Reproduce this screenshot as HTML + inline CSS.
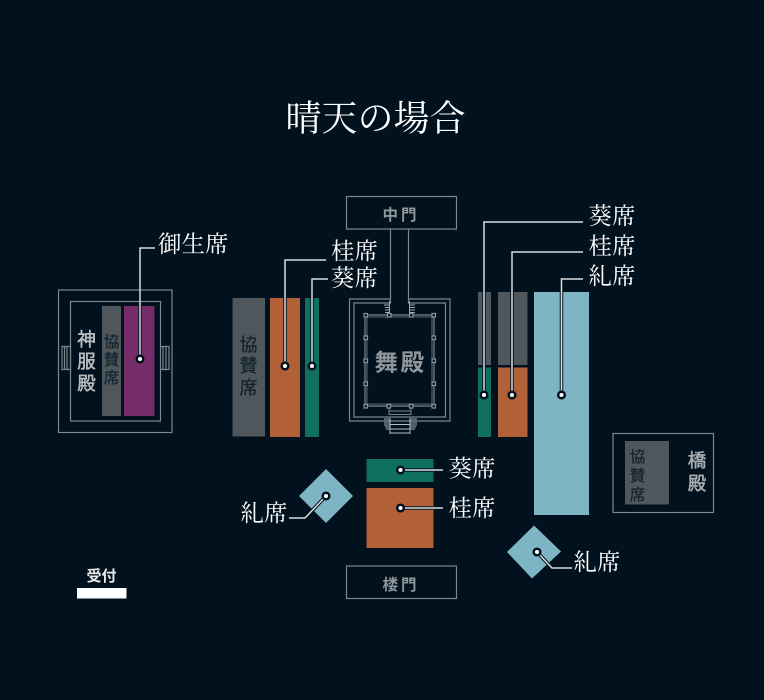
<!DOCTYPE html>
<html lang="ja"><head><meta charset="utf-8"><style>
html,body{margin:0;padding:0;background:#02111e}
svg{display:block}
.s{font-family:"Liberation Sans","Noto Sans CJK JP",sans-serif;font-weight:700;text-anchor:middle}
.l{font-family:"Liberation Serif","Noto Serif CJK SC",serif;fill:#fff;font-size:23.5px}
.d{font-family:"Liberation Sans","Noto Sans CJK JP",sans-serif;fill:#14232e;stroke:#14232e;stroke-width:.3;text-anchor:middle}
.m{font-family:"Liberation Sans","Noto Sans CJK JP",sans-serif;text-anchor:middle;stroke-width:.5}
</style></head><body>
<svg width="764" height="700" viewBox="0 0 764 700" xmlns="http://www.w3.org/2000/svg">
<rect width="764" height="700" fill="#02111e"/>
<text x="375.5" y="130.5" text-anchor="middle" font-size="36" fill="#fff" font-family="'Liberation Serif','Noto Serif CJK SC',serif">晴天の場合</text>

<!-- left building -->
<g fill="none" stroke="#7d868b" stroke-width="1.2">
<rect x="58.5" y="290" width="113.5" height="142.5"/>
<rect x="70.5" y="301.5" width="90" height="119.5"/>
<path d="M62 346.5h8.5v23H62zM64.5 346.5v23M67 346.5v23M160.5 346.5h8.5v23h-8.5M163 346.5v23M166 346.5v23"/>
</g>
<rect x="102" y="306" width="19" height="110" fill="#4f575c"/>
<rect x="124" y="306" width="30.5" height="110" fill="#742d68"/>
<g font-size="18.5" fill="#b7bcbf" stroke="#b7bcbf"><text class="m" x="86.5" y="346">神</text><text class="m" x="86.5" y="368">服</text><text class="m" x="86.5" y="390">殿</text></g>
<g font-size="15.5"><text class="d" x="111.5" y="347">協</text><text class="d" x="111.5" y="365">賛</text><text class="d" x="111.5" y="383">席</text></g>

<!-- seats left of stage -->
<rect x="232.5" y="298" width="32.5" height="138.5" fill="#4f575c"/>
<rect x="270" y="298" width="30" height="139" fill="#b26038"/>
<rect x="305" y="298" width="14" height="139" fill="#0f705e"/>
<g font-size="18"><text class="d" x="248.5" y="351">協</text><text class="d" x="248.5" y="372">賛</text><text class="d" x="248.5" y="394">席</text></g>

<!-- gates and stage -->
<g fill="none" stroke="#7d868b" stroke-width="1.2">
<rect x="346.5" y="196.5" width="110" height="32.5"/>
<rect x="346.5" y="566" width="110" height="32.5"/>
<path d="M390.5 229V303H354V417H445.5V303H408.5V229"/>
<path d="M390.5 299H349.5V421H450V299H408.5"/>
<path d="M365 315H434V406H365Z"/>
<path d="M367 317H432V404H367Z" stroke-width=".8"/>
<path d="M389 407V414.5H411V407M389 411H411" stroke-width="1"/>
</g>
<g fill="none" stroke="#a2a9ad" stroke-width="1">
<path d="M384 305h6M385 307.5h5M385 310h5M385 312.5h5M409 305h6M409 307.5h6M409 310h6M409 312.5h6M389.500 301V316M409.500 301V316"/>
<path d="M384 419h6M384 421h6M384 423h6M384 425h6M385 427h5M386 429h4M410 419h7M410 421h7M410 423h7M410 425h7M410 427h6M410 429h5"/>
<path d="M390 418V434M410 418V434M390 424.500h20M390 429h20M390 433h20" stroke="#b5babd"/>
</g>
<g fill="#02111e" stroke="#8b949a" stroke-width="1.2">
<rect x="364" y="313.500" width="3.500" height="3.500"/><rect x="432" y="313.500" width="3.500" height="3.500"/><rect x="364" y="404.500" width="3.500" height="3.500"/><rect x="432" y="404.500" width="3.500" height="3.500"/>
<rect x="364" y="336" width="3.500" height="3.500"/><rect x="432" y="336" width="3.500" height="3.500"/><rect x="364" y="359" width="3.500" height="3.500"/><rect x="432" y="359" width="3.500" height="3.500"/><rect x="364" y="382" width="3.500" height="3.500"/><rect x="432" y="382" width="3.500" height="3.500"/>
<rect x="387.500" y="313.500" width="3.500" height="3.500"/><rect x="409.500" y="313.500" width="3.500" height="3.500"/><rect x="387" y="404.500" width="3.500" height="3.500"/><rect x="409.500" y="404.500" width="3.500" height="3.500"/>
</g>
<g fill="#8f979c"><text class="s" x="401" y="220" font-size="15.500" letter-spacing="3">中門</text><text class="s" x="401" y="590" font-size="15.500" letter-spacing="3">楼門</text><text class="s" x="400.500" y="370.500" font-size="23.500" letter-spacing="2.500">舞殿</text></g>

<!-- seats right of stage -->
<rect x="478" y="292" width="13" height="73" fill="#4f575c"/>
<rect x="478" y="367.500" width="13" height="69.500" fill="#0f705e"/>
<rect x="498" y="292" width="29.500" height="73" fill="#4f575c"/>
<rect x="498" y="367.500" width="29.500" height="69.500" fill="#b26038"/>
<rect x="534" y="292" width="55" height="223" fill="#7eb5c4"/>

<!-- right building -->
<rect x="613" y="433.500" width="100.500" height="79" fill="none" stroke="#7d868b" stroke-width="1.2"/>
<rect x="625" y="441" width="44" height="63.500" fill="#4f575c"/>
<g font-size="15.500"><text class="d" x="637.500" y="462">協</text><text class="d" x="637.500" y="481">賛</text><text class="d" x="637.500" y="500">席</text></g>
<g font-size="18.500" fill="#a9afb3" stroke="#a9afb3"><text class="m" x="697" y="467">橋</text><text class="m" x="697" y="490">殿</text></g>

<!-- lower seats -->
<rect x="366.500" y="459" width="67" height="23" fill="#0f705e"/>
<rect x="366.500" y="488" width="67" height="60" fill="#b26038"/>
<polygon points="326,469 353,496 326,523 299,496" fill="#7eb5c4"/>
<polygon points="534,525.500 561,551.500 532,578.500 507,552" fill="#7eb5c4"/>

<!-- leader lines -->
<g fill="none" stroke="#02111e" stroke-width="3.500">
<path d="M140 359V306M285 366V298M312 366V298M484 395V292M512 395V292M561.500 395V292"/>
<path d="M326 496L305 518M537 552L552 568M400.500 470H433M400.500 508H433"/>
</g>
<g fill="none" stroke="#d8dcde" stroke-width="1.500">
<path d="M140 359V248H155"/>
<path d="M285 366V260H326"/>
<path d="M312 366V279H328"/>
<path d="M484 395V222H583"/>
<path d="M512 395V252H583"/>
<path d="M561.500 395V279H583"/>
<path d="M400.500 470H443M400.500 508H443"/>
<path d="M326 496L305 518H289M537 552L552 568H572"/>
</g>
<g fill="#fff" stroke="#02111e" stroke-width="2.500">
<circle cx="140" cy="359" r="3.300"/><circle cx="285" cy="366" r="3.300"/><circle cx="312" cy="366" r="3.300"/>
<circle cx="484" cy="395" r="3.300"/><circle cx="512" cy="395" r="3.300"/><circle cx="561.500" cy="395" r="3.300"/>
<circle cx="400.500" cy="470" r="3.300"/><circle cx="400.500" cy="508" r="3.300"/>
<circle cx="326" cy="496" r="3.300"/><circle cx="537" cy="552" r="3.300"/>
</g>

<!-- labels -->
<text class="l" x="158" y="252">御生席</text>
<text class="l" x="331" y="259">桂席</text>
<text class="l" x="331" y="286">葵席</text>
<text class="l" x="588.500" y="224">葵席</text>
<text class="l" x="588.500" y="254">桂席</text>
<text class="l" x="588.500" y="284">糺席</text>
<text class="l" x="448.500" y="476.500">葵席</text>
<text class="l" x="448.500" y="516">桂席</text>
<text class="l" x="240.500" y="521">糺席</text>
<text class="l" x="573.500" y="570">糺席</text>

<!-- reception -->
<text class="s" x="101.500" y="581" font-size="15" fill="#e8eaeb">受付</text>
<rect x="77" y="588" width="49.500" height="10.500" fill="#fff"/>
</svg>
</body></html>
